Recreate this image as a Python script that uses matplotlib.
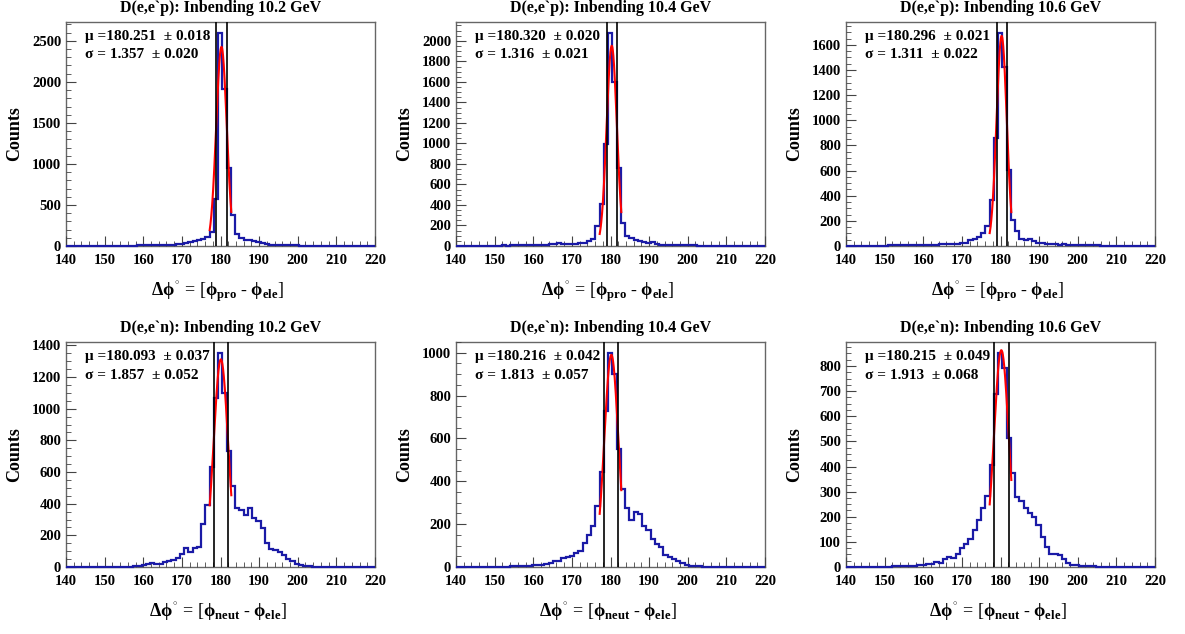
import numpy as np
import matplotlib
matplotlib.use("Agg")
import matplotlib.pyplot as plt
from matplotlib.ticker import MultipleLocator, AutoMinorLocator

plt.rcParams['font.family'] = ['Liberation Serif', 'DejaVu Serif']
plt.rcParams['font.weight'] = 'bold'
plt.rcParams['mathtext.fontset'] = 'custom'
plt.rcParams['mathtext.rm'] = 'Liberation Serif:bold'
plt.rcParams['mathtext.it'] = 'Liberation Serif:bold'
plt.rcParams['mathtext.bf'] = 'Liberation Serif:bold'

# binning of the histograms (1.1 deg bins)
bin_lo = 139.8
bin_w = 1.1
fit_lo, fit_hi = 177.2, 182.8

titles = ["D(e,e`p): Inbending 10.2 GeV", "D(e,e`p): Inbending 10.4 GeV", "D(e,e`p): Inbending 10.6 GeV",
          "D(e,e`n): Inbending 10.2 GeV", "D(e,e`n): Inbending 10.4 GeV", "D(e,e`n): Inbending 10.6 GeV"]

# fit results: mu, mu err, sigma, sigma err, gaussian amplitude
mu = [180.251, 180.320, 180.296, 180.093, 180.216, 180.215]
mu_err = [0.018, 0.020, 0.021, 0.037, 0.042, 0.049]
sigma = [1.357, 1.316, 1.311, 1.857, 1.813, 1.913]
sigma_err = [0.020, 0.021, 0.022, 0.052, 0.057, 0.068]
amp = [2427, 1952, 1671, 1312, 990, 863]

ep_102 = [2, 1, 2, 1, 2, 2, 3, 2, 3, 4, 3, 4, 5, 4, 5,
          6, 5, 7, 8, 10, 9,
          12, 14, 12, 18, 16, 20, 28,
          40, 45, 55, 73, 85, 105, 175, 570,
          2600, 1915, 955, 375, 150, 100,
          72, 78, 58, 45, 32, 22, 18, 15,
          12, 10, 9, 8, 8, 6, 5, 5, 4, 4, 3, 3, 3, 2, 2, 2, 2, 1, 1, 1, 1, 1, 1]
ep_104 = [1, 2, 1, 2, 2, 3, 2, 3, 3, 4, 3, 5, 4, 5, 6,
          6, 7, 8, 8, 10, 12,
          14, 15, 17, 29, 18, 20, 20,
          23, 26, 32, 48, 71, 194, 410, 990,
          2080, 1597, 765, 220, 97, 80,
          58, 48, 35, 32, 38, 19, 13, 11,
          10, 9, 8, 7, 6, 6, 5, 4, 4, 3, 3, 3, 2, 2, 2, 2, 1, 1, 1, 1, 1, 1, 1]
ep_106 = [1, 1, 2, 1, 2, 2, 2, 3, 3, 3, 4, 4, 5, 5, 6,
          6, 7, 7, 8, 9, 10,
          11, 12, 14, 16, 13, 18, 26,
          26, 47, 53, 71, 105, 158, 363, 863,
          1697, 1426, 605, 203, 118, 58,
          47, 53, 39, 26, 21, 18, 14, 12,
          10, 12, 9, 8, 7, 6, 5, 5, 4, 4, 3, 3, 3, 2, 2, 2, 2, 1, 1, 1, 1, 1, 1]
en_102 = [0, 0, 1, 0, 1, 1, 1, 1, 2, 1, 2, 2, 3, 2, 3,
          3, 4, 6, 11, 19, 25,
          17, 21, 32, 36, 46, 59, 84,
          122, 95, 120, 126, 269, 394, 632, 1069,
          1354, 1099, 731, 512, 373, 362,
          331, 375, 309, 288, 248, 152, 116, 105,
          95, 74, 53, 36, 17, 11, 6, 4, 2, 2, 1, 1, 1, 1, 0, 0, 0, 1, 0, 0, 0, 0, 0]
en_104 = [0, 0, 0, 1, 0, 1, 1, 1, 1, 2, 1, 2, 2, 3, 3,
          3, 3, 5, 8, 11, 11,
          16, 20, 26, 26, 42, 47, 50,
          67, 73, 114, 148, 190, 285, 443, 726,
          1000, 902, 552, 362, 275, 218,
          257, 249, 191, 174, 132, 109, 93, 58,
          47, 36, 26, 20, 8, 5, 4, 3, 2, 2, 1, 1, 1, 1, 0, 0, 0, 0, 0, 0, 0, 0, 0]
en_106 = [0, 0, 0, 0, 1, 0, 1, 1, 1, 1, 1, 2, 2, 2, 2,
          3, 4, 7, 9, 13, 13,
          20, 16, 31, 40, 36, 53, 77,
          93, 113, 147, 189, 233, 284, 407, 687,
          853, 793, 513, 373, 280, 264,
          233, 213, 200, 169, 120, 80, 53, 53,
          49, 33, 16, 9, 7, 4, 3, 2, 2, 1, 1, 1, 1, 0, 0, 0, 0, 0, 0, 0, 0, 0, 0]
hists = [ep_102, ep_104, ep_106, en_102, en_104, en_106]

y_major = [500, 200, 200, 200, 200, 100]
y_minor = [5, 4, 4, 4, 4, 4]

xlabels = [r'$\Delta\phi^{^{\circ}}$ = [$\phi_{pro}$ - $\phi_{ele}$]',
           r'$\Delta\phi^{^{\circ}}$ = [$\phi_{neut}$ - $\phi_{ele}$]']

W, H = 1185, 634
fig = plt.figure(figsize=(W / 100, H / 100), dpi=100)
lefts = [66, 456, 846]
rows = [(22, 246), (342, 567)]

for k in range(6):
    r, c = divmod(k, 3)
    top, bot = rows[r]
    ax = fig.add_axes([lefts[c] / W, 1 - bot / H, 309 / W, (bot - top) / H])
    counts = np.array(hists[k], dtype=float)
    edges = bin_lo + bin_w * np.arange(len(counts) + 1)
    edges = np.clip(edges, 140, 220)
    ax.stairs(counts, edges, color='#1a1aa6', lw=1.6, zorder=4, clip_on=False)

    xf = np.linspace(fit_lo, fit_hi, 200)
    ax.plot(xf, amp[k] * np.exp(-0.5 * ((xf - mu[k]) / sigma[k]) ** 2), color='red', lw=1.5, zorder=5)

    ymax = 1.05 * counts.max()
    for xv in (mu[k] - sigma[k], mu[k] + sigma[k]):
        ax.plot([xv, xv], [0, ymax], color='black', lw=1.2, zorder=6)

    ax.set_xlim(140, 220)
    ax.set_ylim(0, ymax)
    ax.xaxis.set_major_locator(MultipleLocator(10))
    ax.xaxis.set_minor_locator(MultipleLocator(2))
    ax.yaxis.set_major_locator(MultipleLocator(y_major[k]))
    ax.yaxis.set_minor_locator(AutoMinorLocator(y_minor[k]))
    ax.tick_params(which='both', direction='in', labelsize=10.5, color='#444444')
    ax.tick_params(which='major', length=7)
    ax.tick_params(which='minor', length=3.5)
    ax.tick_params(axis='x', pad=6)
    for s in ax.spines.values():
        s.set_color('#666666')
        s.set_linewidth(1.0)
        s.set_zorder(1)

    ax.set_title(titles[k], fontsize=11.5, fontweight='bold', pad=7)
    ax.text(0.06, 0.937, u"\u03bc =%.3f  \u00b1 %.3f" % (mu[k], mu_err[k]),
            transform=ax.transAxes, fontsize=11, va='center', zorder=7)
    ax.text(0.06, 0.853, u"\u03c3 = %.3f  \u00b1 %.3f" % (sigma[k], sigma_err[k]),
            transform=ax.transAxes, fontsize=11, va='center', zorder=7)

    ax.set_xlabel(xlabels[r], fontsize=13)
    ax.xaxis.set_label_coords(0.49, -0.15)
    fig.text((lefts[c] - 51) / W, 1 - (top + bot) / 2 / H, "Counts", rotation=90,
             fontsize=13, ha='center', va='center')

fig.savefig("out.png", dpi=100)
